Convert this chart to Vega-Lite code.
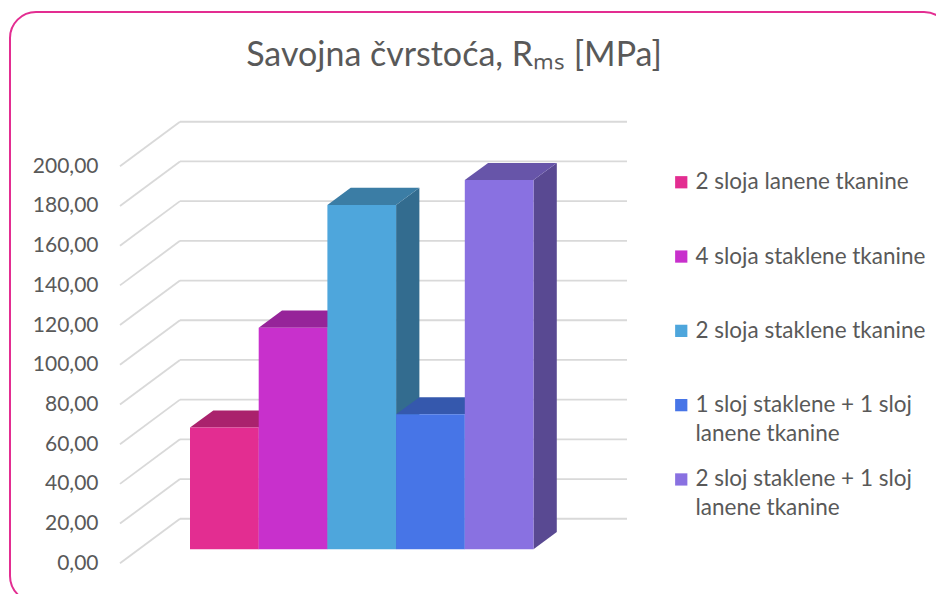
{
  "$schema": "https://vega.github.io/schema/vega-lite/v6.json",
  "width": 940,
  "height": 590,
  "autosize": {"type": "none"},
  "padding": {"left": 10, "top": 12, "right": 0, "bottom": 0},
  "background": "white",
  "title": {
    "text": "Savojna čvrstoća, Rₘₛ [MPa]",
    "font": "Lato", "fontSize": 34, "fontWeight": "normal", "color": "#595959",
    "anchor": "middle", "frame": "group", "baseline": "alphabetic", "offset": -88, "dx": -26
  },
  "datasets": {
    "uzorci": [
      {"materijal": "2 sloja lanene tkanine", "Rms": 61.3},
      {"materijal": "4 sloja staklene tkanine", "Rms": 111.6},
      {"materijal": "2 sloja staklene tkanine", "Rms": 173.5},
      {"materijal": "1 sloj staklene + 1 sloj lanene tkanine", "Rms": 68.0},
      {"materijal": "2 sloj staklene + 1 sloj lanene tkanine", "Rms": 186.0}
    ],
    "podjele": [
      {"t": 0}, {"t": 20}, {"t": 40}, {"t": 60}, {"t": 80}, {"t": 100},
      {"t": 120}, {"t": 140}, {"t": 160}, {"t": 180}, {"t": 200}
    ]
  },
  "layer": [
    {
      "data": {"name": "podjele"},
      "transform": [
        {"calculate": "datum.t - 7.05", "as": "prednja"},
        {"calculate": "datum.t + 15.4", "as": "straznja"}
      ],
      "mark": {"type": "rule", "color": "#D9D9D9", "strokeWidth": 1.8},
      "encoding": {
        "x": {"datum": -1.019, "type": "quantitative", "scale": {"domain": [-2.6201, 11.0626], "nice": false, "zero": false}, "axis": null},
        "x2": {"datum": -0.1456},
        "y": {"field": "prednja", "type": "quantitative", "scale": {"domain": [-26.55, 270.68], "nice": false, "zero": false},
          "axis": {
            "values": [0, 20, 40, 60, 80, 100, 120, 140, 160, 180, 200],
            "labelExpr": "replace(format(datum.value, '.2f'), '.', ',')",
            "labelOffset": 14, "offset": -88, "ticks": false, "domain": false, "grid": false,
            "title": null, "labelPadding": 0, "labelFont": "Lato", "labelFontSize": 21, "labelColor": "#595959"
          }
        },
        "y2": {"field": "straznja"}
      }
    },
    {
      "data": {"name": "podjele"},
      "transform": [
        {"calculate": "datum.t + 15.4", "as": "straznja"}
      ],
      "mark": {"type": "rule", "color": "#D9D9D9", "strokeWidth": 1.8},
      "encoding": {
        "x": {"datum": -0.1456, "type": "quantitative", "scale": {"domain": [-2.6201, 11.0626], "nice": false, "zero": false}, "axis": null},
        "x2": {"datum": 6.361},
        "y": {"field": "straznja", "type": "quantitative", "scale": {"domain": [-26.55, 270.68], "nice": false, "zero": false}, "axis": null}
      }
    },
    {
      "data": {"name": "uzorci"},
      "transform": [
        {"window": [{"op": "row_number", "as": "rb"}]},
        {"calculate": "datum.rb - 1", "as": "i"},
        {"calculate": "[0, 1]", "as": "ivica"},
        {"flatten": ["ivica"]},
        {"calculate": "datum.i + 1 + 0.339 * datum.ivica", "as": "xs"},
        {"calculate": "datum.Rms + 8.66 * datum.ivica", "as": "ys"},
        {"calculate": "8.66 * datum.ivica", "as": "ys0"}
      ],
      "mark": {"type": "area", "interpolate": "linear", "orient": "vertical"},
      "encoding": {
        "x": {"field": "xs", "type": "quantitative", "scale": {"domain": [-2.6201, 11.0626], "nice": false, "zero": false}, "axis": null},
        "y": {"field": "ys", "type": "quantitative", "stack": null, "scale": {"domain": [-26.55, 270.68], "nice": false, "zero": false}, "axis": null},
        "y2": {"field": "ys0"},
        "color": {"field": "materijal", "type": "nominal", "legend": null,
          "scale": {
            "domain": ["2 sloja lanene tkanine", "4 sloja staklene tkanine", "2 sloja staklene tkanine", "1 sloj staklene + 1 sloj lanene tkanine", "2 sloj staklene + 1 sloj lanene tkanine"],
            "range": ["#941D5E", "#821F85", "#336C8F", "#2E4C96", "#594992"]
          }
        }
      }
    },
    {
      "data": {"name": "uzorci"},
      "transform": [
        {"window": [{"op": "row_number", "as": "rb"}]},
        {"calculate": "datum.rb - 1", "as": "i"},
        {"calculate": "[0, 1]", "as": "ivica"},
        {"flatten": ["ivica"]},
        {"calculate": "datum.i + 0.339 * datum.ivica", "as": "xa"},
        {"calculate": "datum.i + 1 + 0.339 * datum.ivica", "as": "xb"},
        {"calculate": "datum.Rms + 8.66 * datum.ivica", "as": "yt"}
      ],
      "mark": {"type": "area", "interpolate": "linear", "orient": "horizontal"},
      "encoding": {
        "y": {"field": "yt", "type": "quantitative", "scale": {"domain": [-26.55, 270.68], "nice": false, "zero": false}, "axis": null},
        "x": {"field": "xa", "type": "quantitative", "stack": null, "scale": {"domain": [-2.6201, 11.0626], "nice": false, "zero": false}, "axis": null},
        "x2": {"field": "xb"},
        "color": {"field": "materijal", "type": "nominal", "legend": null,
          "scale": {
            "domain": ["2 sloja lanene tkanine", "4 sloja staklene tkanine", "2 sloja staklene tkanine", "1 sloj staklene + 1 sloj lanene tkanine", "2 sloj staklene + 1 sloj lanene tkanine"],
            "range": ["#AA226D", "#962499", "#3B7DA5", "#3558AD", "#6755A9"]
          }
        }
      }
    },
    {
      "data": {"name": "uzorci"},
      "transform": [
        {"window": [{"op": "row_number", "as": "rb"}]},
        {"calculate": "datum.rb - 1", "as": "i"},
        {"calculate": "datum.rb", "as": "i1"}
      ],
      "mark": {"type": "bar"},
      "encoding": {
        "x": {"field": "i", "type": "quantitative", "scale": {"domain": [-2.6201, 11.0626], "nice": false, "zero": false}, "axis": null},
        "x2": {"field": "i1"},
        "y": {"field": "Rms", "type": "quantitative", "scale": {"domain": [-26.55, 270.68], "nice": false, "zero": false}, "axis": null},
        "y2": {"datum": 0},
        "color": {"field": "materijal", "type": "nominal",
          "scale": {
            "domain": ["2 sloja lanene tkanine", "4 sloja staklene tkanine", "2 sloja staklene tkanine", "1 sloj staklene + 1 sloj lanene tkanine", "2 sloj staklene + 1 sloj lanene tkanine"],
            "range": ["#E32D91", "#C830CC", "#4EA6DC", "#4775E7", "#8971E1"]
          },
          "legend": {
            "orient": "none", "legendX": 660, "legendY": 159, "title": null,
            "symbolType": "square", "symbolSize": 150, "symbolStrokeWidth": 0,
            "labelFont": "Lato", "labelFontSize": 22.5, "labelColor": "#595959",
            "labelOffset": 3, "labelLimit": 400, "rowPadding": 22.3, "gridAlign": "all", "padding": 0,
            "labelExpr": "indexof(datum.label, ' + ') > 0 ? [substring(datum.label, 0, 24), substring(datum.label, 25)] : datum.label"
          }
        }
      }
    }
  ],
  "resolve": {"scale": {"color": "independent"}, "axis": {"y": "independent"}},
  "config": {
    "view": {"stroke": "#E32D91", "strokeWidth": 2, "cornerRadius": 26, "fill": "white"},
    "style": {"guide-label": {"lineHeight": 29}}
  }
}
